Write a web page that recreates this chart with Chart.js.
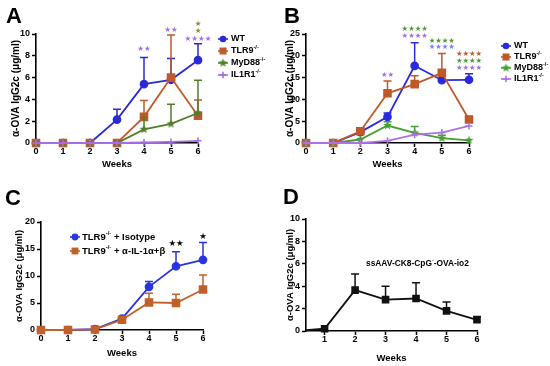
<!DOCTYPE html>
<html><head><meta charset="utf-8">
<script src="https://cdn.jsdelivr.net/npm/chart.js@4.4.0/dist/chart.umd.min.js"></script>
<style>
html,body{margin:0;padding:0;background:#fff;width:550px;height:366px;overflow:hidden;}
.p{position:absolute;width:275px;height:183px;}
canvas{display:block;}
.lt{position:absolute;font:bold 22px "Liberation Sans",Arial,sans-serif;line-height:22px;color:#000;}
</style></head><body>
<div class="p" style="left:0;top:0"><canvas id="cA" width="275" height="183"></canvas></div>
<div class="p" style="left:275px;top:0"><canvas id="cB" width="275" height="183"></canvas></div>
<div class="p" style="left:0;top:183px"><canvas id="cC" width="275" height="183"></canvas></div>
<div class="p" style="left:275px;top:183px"><canvas id="cD" width="275" height="183"></canvas></div>
<div class="lt" style="left:6px;top:5px">A</div>
<div class="lt" style="left:284px;top:5px">B</div>
<div class="lt" style="left:5px;top:187px">C</div>
<div class="lt" style="left:283px;top:186px">D</div>
<script>
// ---------- DATA ----------
const weeks = [0, 1, 2, 3, 4, 5, 6];
const xTicks = [0, 1, 2, 3, 4, 5, 6];
const dXTicks = [1, 2, 3, 4, 5, 6];
const aYTicks = [0, 2, 4, 6, 8, 10];
const bYTicks = [0, 5, 10, 15, 20, 25];
const cYTicks = [0, 5, 10, 15, 20];
const dYTicks = [0, 2, 4, 6, 8, 10];
const groupNames = ['WT', 'TLR9', 'MyD88', 'IL1R1'];
const groupSup = ['', '-/-', '-/-', '-/-'];
const yTitle = 'α-OVA IgG2c (μg/ml)';
const xTitle = 'Weeks';

// Panel A
const aWT      = [0, 0, 0, 2.15, 5.4, 5.8, 7.6];
const aWTErr   = [0, 0, 0, 0.95, 2.45, 1.95, 1.5];
const aTLR9    = [0, 0, 0, 0, 2.4, 6.0, 2.5];
const aTLR9Err = [0, 0, 0, 0, 1.5, 3.9, 1.45];
const aMyD88   = [0, 0, 0, 0, 1.25, 1.75, 2.75];
const aMyD88Err= [0, 0, 0, 0, 1.1, 1.8, 3.0];
const aIL1R1   = [0, 0, 0, 0, 0.05, 0.1, 0.2];
const aIL1R1Err= [0, 0, 0, 0, 0, 0, 0];
const aStarWeek = [4, 5, 6, 6, 6];
const aStarY    = [8.6, 10.4, 10.9, 10.3, 9.55];
const aStarText = ['★★', '★★', '★', '★', '★★★★'];

// Panel B
const bWT      = [0, 0, 2.5, 6.0, 17.7, 14.4, 14.5];
const bWTErr   = [0, 0, 0.9, 0.9, 5.3, 2.2, 1.4];
const bTLR9    = [0, 0, 2.7, 11.4, 13.5, 16.1, 5.4];
const bTLR9Err = [0, 0, 0.5, 2.8, 1.9, 4.4, 0.6];
const bMyD88   = [0, 0, 0.8, 4.0, 2.3, 1.1, 0.6];
const bMyD88Err= [0, 0, 0, 0.9, 1.5, 0.7, 0];
const bIL1R1   = [0, 0, 0, 0.5, 1.9, 2.4, 3.9];
const bIL1R1Err= [0, 0, 0, 0, 0, 0, 0];
const bStarWeek = [3, 4, 4, 5, 5, 6, 6, 6];
const bStarY    = [15.6, 26.1, 24.5, 23.4, 22.0, 20.4, 18.8, 17.2];
const bStarText = ['★★', '★★★★', '★★★★', '★★★★', '★★★★', '★★★★', '★★★★', '★★★★'];

// Panel C
const cNames   = ['TLR9', 'TLR9'];
const cSuffix  = [' + Isotype', ' + α-IL-1α+β'];
const cIso     = [0, 0, 0.15, 2.1, 8.0, 11.8, 13.0];
const cIsoErr  = [0, 0, 0, 0.3, 1.0, 2.7, 3.2];
const cAnti    = [0, 0, 0.1, 1.9, 5.1, 5.0, 7.5];
const cAntiErr = [0, 0, 0, 0, 1.7, 1.6, 2.7];
const cStarWeek = [5, 6];
const cStarY    = [15.9, 17.2];
const cStarText = ['★★', '★'];

// Panel D
const dLabel = ['ssAAV-CK8-CpG', '-', '-OVA-io2'];
const dVals  = [0, 0.2, 3.65, 2.8, 2.9, 1.8, 1.0];
const dErr   = [0, 0, 1.45, 1.2, 1.4, 0.8, 0.3];

// ---------- STYLE / HELPERS ----------
const FF = '"Liberation Sans", Arial, Helvetica, sans-serif';
const SF = '"DejaVu Sans", sans-serif';
Chart.defaults.font.family = FF;
Chart.defaults.color = '#000';

function starImg(color, r) {
  const s = Math.ceil(r * 2) + 2;
  const c = document.createElement('canvas'); c.width = s; c.height = s;
  const g = c.getContext('2d'); g.fillStyle = color; g.beginPath();
  for (let i = 0; i < 10; i++) {
    const a = -Math.PI / 2 + i * Math.PI / 5, rr = i % 2 ? r * 0.45 : r;
    g.lineTo(s / 2 + rr * Math.cos(a), s / 2 + rr * Math.sin(a));
  }
  g.closePath(); g.fill(); return c;
}
function drawMarker(ctx, style, x, y, color, r) {
  ctx.fillStyle = color; ctx.strokeStyle = color;
  if (style === 'circle') { ctx.beginPath(); ctx.arc(x, y, r, 0, Math.PI * 2); ctx.fill(); }
  else if (style === 'rect') { ctx.fillRect(x - r, y - r, 2 * r, 2 * r); }
  else if (style === 'cross') { ctx.lineWidth = 1.6; ctx.beginPath(); ctx.moveTo(x - r, y); ctx.lineTo(x + r, y); ctx.moveTo(x, y - r); ctx.lineTo(x, y + r); ctx.stroke(); }
  else if (style instanceof HTMLCanvasElement) ctx.drawImage(style, x - style.width / 2, y - style.height / 2);
}
function drawRich(ctx, segs, x, y, size, color) {
  let cx = x; ctx.fillStyle = color || '#000'; ctx.textAlign = 'left'; ctx.textBaseline = 'middle';
  for (const s of segs) {
    if (s.sup) { ctx.font = `bold ${size * 0.62}px ${FF}`; ctx.fillText(s.t, cx, y - size * 0.36); }
    else { ctx.font = `bold ${size}px ${FF}`; ctx.fillText(s.t, cx, y); }
    cx += ctx.measureText(s.t).width;
  }
}
function ds(label, vals, err, color, style, radius, extra) {
  return Object.assign({
    label, data: weeks.map((w, i) => ({ x: w, y: vals[i] })), err,
    borderColor: color, backgroundColor: color, pointBackgroundColor: color, pointBorderColor: color,
    borderWidth: 1.8, pointStyle: style, pointRadius: radius, pointBorderWidth: 1.5,
    tension: 0, fill: false, clip: false
  }, extra || {});
}
const errorBars = {
  id: 'errorBars',
  afterDatasetDraw(chart, args) {
    const d = chart.data.datasets[args.index];
    if (!d.err) return;
    const ys = chart.scales.y, ctx = chart.ctx;
    ctx.save(); ctx.strokeStyle = d.borderColor; ctx.lineWidth = 1.5;
    args.meta.data.forEach((pt, i) => {
      const e = d.err[i]; if (!e) return;
      const yTop = ys.getPixelForValue(d.data[i].y + e);
      ctx.beginPath(); ctx.moveTo(pt.x, pt.y); ctx.lineTo(pt.x, yTop);
      ctx.moveTo(pt.x - 4, yTop); ctx.lineTo(pt.x + 4, yTop); ctx.stroke();
    });
    ctx.restore();
  }
};
function starsPlugin(wk, val, txt, cols, size) {
  return { id: 'stars', afterDraw(chart) {
    const ctx = chart.ctx, xs = chart.scales.x, ys = chart.scales.y;
    ctx.save(); ctx.font = `${size}px ${SF}`; ctx.textAlign = 'center'; ctx.textBaseline = 'middle';
    wk.forEach((w, i) => { ctx.fillStyle = cols[i]; ctx.fillText(txt[i], xs.getPixelForValue(w), ys.getPixelForValue(val[i])); });
    ctx.restore();
  } };
}
function legendPlugin(items, mx, tx, ys, size) {
  return { id: 'lg', afterDraw(chart) {
    const ctx = chart.ctx; ctx.save();
    items.forEach((it, i) => {
      const y = ys[i];
      ctx.strokeStyle = it.color; ctx.lineWidth = 1.6;
      ctx.beginPath(); ctx.moveTo(mx - 5, y); ctx.lineTo(mx + 5, y); ctx.stroke();
      drawMarker(ctx, it.style, mx, y, it.color, it.r);
      drawRich(ctx, it.segs, tx, y, size, '#000');
    });
    ctx.restore();
  } };
}
function options(L, R, T, B, xmin, xmax, xt, yt, ytX, ytSize, xtY) {
  const ylh = ytSize * 1.2, xlh = 9.5 * 1.2;
  return {
    responsive: false, animation: false, devicePixelRatio: 1,
    layout: { padding: { left: 0, top: T, right: 275 - R, bottom: 0 } },
    plugins: { legend: { display: false }, tooltip: { enabled: false } },
    scales: {
      x: {
        type: 'linear', min: xmin, max: xmax,
        afterFit(s) { s.height = 183 - B; },
        afterBuildTicks(s) { s.ticks = xt.map(v => ({ value: v })); },
        grid: { drawOnChartArea: false, drawTicks: true, tickLength: 4, tickColor: '#000', tickWidth: 1.5 },
        border: { display: true, color: '#000', width: 1.6 },
        ticks: { autoSkip: false, maxRotation: 0, padding: -1, font: { size: 9, weight: 'bold' }, color: '#000' },
        title: { display: true, text: xTitle, font: { size: 9.5, weight: 'bold' }, color: '#000', padding: { top: 0, bottom: 183 - xtY - xlh / 2 } }
      },
      y: {
        type: 'linear', min: yt[0], max: yt[yt.length - 1],
        afterFit(s) { s.width = L; },
        afterBuildTicks(s) { s.ticks = yt.map(v => ({ value: v })); },
        grid: { drawOnChartArea: false, drawTicks: true, tickLength: 4, tickColor: '#000', tickWidth: 1.5 },
        border: { display: true, color: '#000', width: 1.6 },
        ticks: { padding: 2, font: { size: 9, weight: 'bold' }, color: '#000' },
        title: { display: true, text: yTitle, font: { size: ytSize, weight: 'bold' }, color: '#000', padding: { top: ytX - ylh / 2, bottom: 0 } }
      }
    }
  };
}
function segsFor(i) { return groupSup[i] ? [{ t: groupNames[i] }, { t: groupSup[i], sup: true }] : [{ t: groupNames[i] }]; }

// ---------- PANEL A ----------
const colA = ['#2a2ad8', '#c05a2a', '#527e2c', '#a46ee6'];
const starA = starImg(colA[2], 4.5);
const styA = ['circle', 'rect', starA, 'cross'];
new Chart(document.getElementById('cA'), {
  type: 'line',
  data: { datasets: [
    ds(groupNames[0], aWT, aWTErr, colA[0], 'circle', 3.6),
    ds(groupNames[1], aTLR9, aTLR9Err, colA[1], 'rect', 5),
    ds(groupNames[2], aMyD88, aMyD88Err, colA[2], starA, 4.5),
    ds(groupNames[3], aIL1R1, aIL1R1Err, colA[3], 'cross', 3.5)
  ].reverse() },
  options: options(36, 198, 34, 143, 0, 6, xTicks, aYTicks, 16, 10, 164),
  plugins: [errorBars,
    starsPlugin(aStarWeek, aStarY, aStarText, ['#a070e8', '#a070e8', '#8c8a35', '#8c8a35', '#a070e8'], 7.5),
    legendPlugin(groupNames.map((n, i) => ({ color: colA[i], style: styA[i], r: i === 1 ? 3.5 : 3.3, segs: segsFor(i) })), 223, 231, [39, 51, 63, 75], 9)]
});

// ---------- PANEL B ----------
const colB = ['#2a2ae0', '#c0582a', '#45a032', '#b070e8'];
const starB = starImg(colB[2], 4.5);
const styB = ['circle', 'rect', starB, 'cross'];
new Chart(document.getElementById('cB'), {
  type: 'line',
  data: { datasets: [
    ds(groupNames[0], bWT, bWTErr, colB[0], 'circle', 3.6),
    ds(groupNames[1], bTLR9, bTLR9Err, colB[1], 'rect', 5),
    ds(groupNames[2], bMyD88, bMyD88Err, colB[2], starB, 4.5),
    ds(groupNames[3], bIL1R1, bIL1R1Err, colB[3], 'cross', 3.5)
  ].reverse() },
  options: options(31, 194, 34, 143, 0, 6, xTicks, bYTicks, 15, 10, 164),
  plugins: [errorBars,
    starsPlugin(bStarWeek, bStarY, bStarText, ['#a070e8', '#4c9a30', '#a070e8', '#4c9a30', '#8080e8', '#c0582a', '#4c9a30', '#a070e8'], 7.3),
    legendPlugin(groupNames.map((n, i) => ({ color: colB[i], style: styB[i], r: i === 1 ? 3.5 : 3.3, segs: segsFor(i) })), 231, 239, [46, 57, 68, 79], 9)]
});

// ---------- PANEL C ----------
const colC = ['#2a35e0', '#c0602a'];
new Chart(document.getElementById('cC'), {
  type: 'line',
  data: { datasets: [
    ds('Isotype', cIso, cIsoErr, colC[0], 'circle', 3.6),
    ds('anti-IL-1', cAnti, cAntiErr, colC[1], 'rect', 5)
  ].reverse() },
  options: options(41, 203, 39, 147, 0, 6, xTicks, cYTicks, 19, 9.5, 170),
  plugins: [errorBars,
    starsPlugin(cStarWeek, cStarY, cStarText, ['#000', '#000'], 8.5),
    legendPlugin(cNames.map((n, i) => ({ color: colC[i], style: i ? 'rect' : 'circle', r: 3.4, segs: [{ t: n }, { t: '-/-', sup: true }, { t: cSuffix[i] }] })), 75, 82, [54, 68], 9.5)]
});

// ---------- PANEL D ----------
const dTextPlugin = { id: 'dtext', afterDraw(chart) {
  drawRich(chart.ctx, [{ t: dLabel[0] }, { t: dLabel[1], sup: true }, { t: dLabel[2] }], 91, 81, 8.4, '#000');
} };
new Chart(document.getElementById('cD'), {
  type: 'line',
  data: { datasets: [
    ds('D', dVals, dErr, '#111', 'rect', 4.3, { clip: { left: 0, top: false, right: false, bottom: false }, pointRadius: [0, 4.3, 4.3, 4.3, 4.3, 4.3, 4.3] })
  ] },
  options: options(31, 202, 36, 148, 0.39, 6, dXTicks, dYTicks, 15, 9.5, 175),
  plugins: [errorBars, dTextPlugin]
});
</script>
</body></html>
